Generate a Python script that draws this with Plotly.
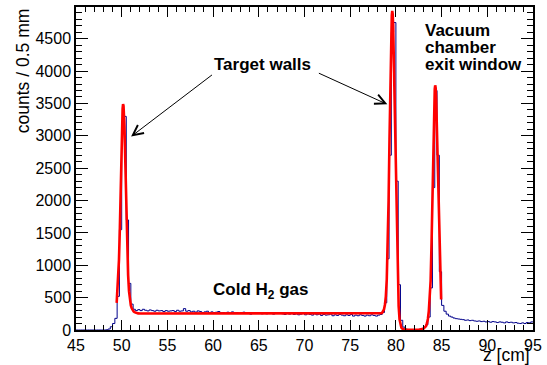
import numpy as np
import plotly.graph_objects as go

# ---- data ----
bin_start = 45.0
bin_width = 0.25
hist_counts = (
    [0] * 13 +
    [3, 15, 50, 100, 180, 520, 1550, 3050, 3300, 1700, 720, 400, 320] +
    [300, 315, 300, 320, 305, 295, 310, 300, 290, 305, 295, 300,
     285, 300, 290, 295, 300, 285, 305, 290, 295, 330, 290, 300,
     280, 290, 275, 295, 285, 270, 280, 290, 265, 280, 270, 275,
     285, 265, 270, 260, 275, 260, 280, 265, 270, 255, 265, 275,
     260, 270, 245, 265, 255, 270, 260, 250, 265, 250, 270, 255,
     245, 265, 255, 260, 250, 240, 260, 245, 255, 240, 250, 235,
     245, 255, 235, 250, 240, 230, 250, 235, 245, 225, 240, 230,
     235, 245, 220, 235, 225, 240, 230, 220, 235, 225, 240, 215,
     230, 220, 235, 225, 215, 230, 220, 235, 225, 215, 230, 240] +
    [270, 420, 1100, 2700, 4600, 4750, 2300, 700, 150, 45, 15, 8, 5, 3, 3,
     5, 10, 20, 40, 80, 200, 650, 2200, 3700, 2700, 900, 380, 290, 245,
     215, 200] +
    [185, 175, 170, 165, 160, 150, 155, 145, 150, 140, 135, 140, 130, 135,
     125, 130, 120, 130, 125, 115, 125, 120, 110, 125, 115, 120, 110, 115,
     105, 100, 110, 100, 115, 110, 125]
)

fit_z = [49.45, 49.5, 49.6, 49.7, 49.8, 49.9, 50.0, 50.1, 50.15, 50.2, 50.3,
         50.4, 50.5, 50.6, 50.7, 50.8, 50.9, 51.0, 51.1, 51.2, 51.3, 51.4, 51.5,
         51.6, 51.8, 52.0, 60.0, 70.0, 78.3, 78.4, 78.5, 78.6, 78.7, 78.8, 78.9,
         79.0, 79.1, 79.2, 79.3, 79.4, 79.5, 79.55, 79.6, 79.65, 79.7, 79.8,
         79.9, 80.0, 80.1, 80.2, 80.3, 80.4, 80.5, 80.6, 80.7, 80.8, 81.0,
         81.5, 82.0, 82.5, 83.0, 83.2, 83.3, 83.4, 83.5, 83.6, 83.7, 83.8,
         83.9, 84.0, 84.1, 84.2, 84.25, 84.3, 84.35, 84.4, 84.5, 84.6, 84.7,
         84.8, 84.9, 84.95]
fit_counts = [420, 520, 740, 1080, 1580, 2300, 3000, 3420, 3490, 3460, 3150,
              2550, 1850, 1250, 850, 600, 460, 380, 335, 305, 288, 276, 268,
              262, 257, 255, 255, 255, 257, 260, 267, 285, 320, 390, 520,
              780, 1250, 2000, 2950, 3950, 4650, 4860, 4930, 4880, 4700, 4000,
              3000, 2100, 1350, 750, 370, 160, 70, 35, 20, 12, 5,
              2, 2, 5, 20, 40, 60, 105, 170, 290, 460, 760,
              1350, 2200, 3000, 3550, 3720, 3780, 3740, 3600, 3000, 2200, 1500,
              950, 580, 470]

x_ticks = [45, 50, 55, 60, 65, 70, 75, 80, 85, 90, 95]
y_ticks = [0, 500, 1000, 1500, 2000, 2500, 3000, 3500, 4000, 4500]

# ---- build step histogram ----
edges = bin_start + bin_width * np.arange(len(hist_counts) + 1)
hx = list(edges)
hy = list(hist_counts) + [hist_counts[-1]]

FONT = "Liberation Sans"

fig = go.Figure()
fig.add_trace(go.Scatter(x=hx, y=hy, mode="lines", line_shape="hv",
                         line=dict(color="#00008b", width=1), hoverinfo="skip"))
fig.add_trace(go.Scatter(x=fit_z, y=fit_counts, mode="lines",
                         line=dict(color="#ff0000", width=2.6),
                         hoverinfo="skip"))

axis_common = dict(
    showgrid=False, zeroline=False, showline=True, linecolor="black", linewidth=1.5,
    mirror="allticks", ticks="inside", tickcolor="black", tickwidth=1,
    tickfont=dict(family=FONT, size=16, color="black"),
)
fig.update_xaxes(range=[45, 95], tickvals=x_ticks, ticklen=10,
                 minor=dict(ticks="inside", ticklen=5, dtick=1, tick0=45,
                            tickcolor="black", tickwidth=1, showgrid=False),
                 **axis_common)
fig.update_yaxes(range=[0, 4990], tickvals=y_ticks, ticklen=12,
                 minor=dict(ticks="inside", ticklen=6, dtick=100, tick0=0,
                            tickcolor="black", tickwidth=1, showgrid=False),
                 **axis_common)

ann_font = dict(family=FONT, size=17, color="black")
annotations = [
    dict(x=65.45, y=4097, xref="x", yref="y", text="<b>Target walls</b>",
         showarrow=False, font=ann_font),
    dict(x=51.03, y=2989, ax=60.04, ay=3958, xref="x", yref="y", axref="x", ayref="y",
         text="", showarrow=True, arrowhead=5, arrowsize=2, arrowwidth=1, arrowcolor="black"),
    dict(x=79.06, y=3486, ax=71.41, ay=3978, xref="x", yref="y", axref="x", ayref="y",
         text="", showarrow=True, arrowhead=5, arrowsize=2, arrowwidth=1, arrowcolor="black"),
    dict(x=65.24, y=600, xref="x", yref="y", text="<b>Cold H<sub>2</sub> gas</b>",
         showarrow=False, font=ann_font),
    dict(x=82.99, y=4620, xref="x", yref="y", text="<b>Vacuum</b>", xanchor="left",
         showarrow=False, font=ann_font),
    dict(x=82.99, y=4359, xref="x", yref="y", text="<b>chamber</b>", xanchor="left",
         showarrow=False, font=ann_font),
    dict(x=82.99, y=4105, xref="x", yref="y", text="<b>exit window</b>", xanchor="left",
         showarrow=False, font=ann_font),
    dict(x=(22 - 76) / 462, y=(330 - 69) / 325, xref="paper", yref="paper",
         xanchor="center", yanchor="middle",
         text="counts / 0.5 mm", textangle=-90, showarrow=False,
         font=dict(family=FONT, size=17.5, color="black")),
    dict(x=(537 - 76) / 462, y=(330 - 355) / 325, xref="paper", yref="paper",
         xanchor="right", yanchor="middle",
         text="z [cm]", showarrow=False,
         font=dict(family=FONT, size=17.5, color="black")),
]

fig.update_layout(
    width=547, height=365, autosize=False,
    margin=dict(l=76, r=9, t=5, b=35),
    paper_bgcolor="white", plot_bgcolor="white",
    showlegend=False, annotations=annotations,
)

fig.write_html("out.html")
